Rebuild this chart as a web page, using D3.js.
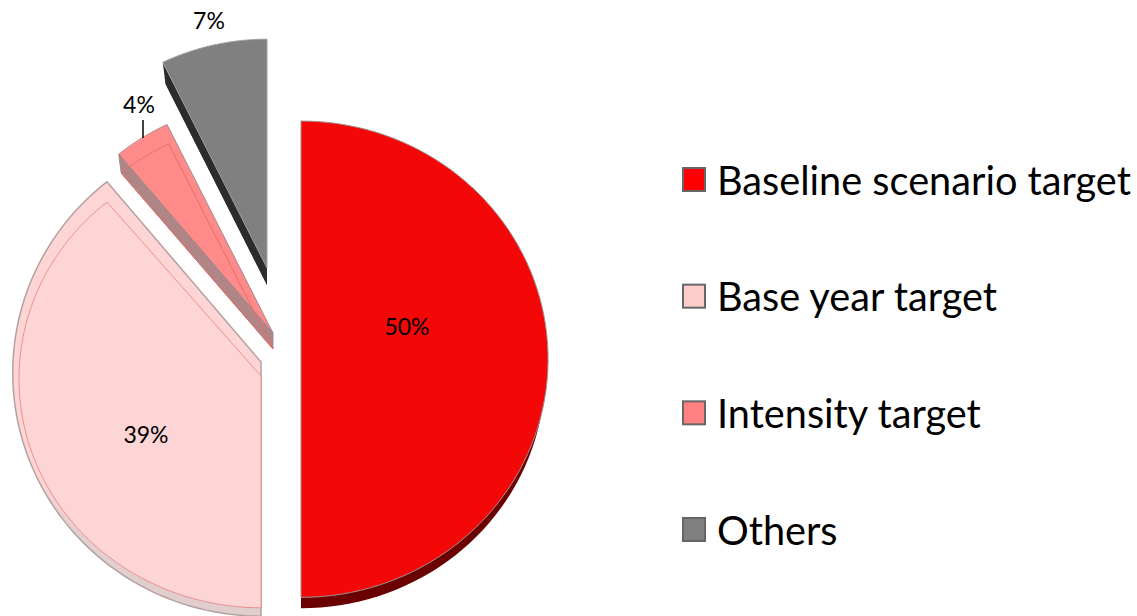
<!DOCTYPE html>
<html>
<head>
<meta charset="utf-8">
<script src="https://cdn.jsdelivr.net/npm/d3@7"></script>
<style>
  body { margin: 0; background: #fff; }
  text { font-family: Lato, "Open Sans", sans-serif; fill: #000; }
</style>
</head>
<body>
<script>
// chart values (shares in percent)
var categories = ["Baseline scenario target", "Base year target", "Intensity target", "Others"];
var shares = [50, 38.9, 3.8, 7.3];

// colours per slice
var faceColors = ["#f40707", "#fdd5d5", "#ff8a8a", "#808080"];
var legendColors = ["#ff0000", "#ffcccc", "#ff8080", "#808080"];
var edgeColors = ["#a09090", "#b5a0a0", "#a58a8a", "#a0a0a0"];

// exploded pie, top face and bottom face of each slice (slightly in perspective)
var topFaces = [
  {x: 301, y: 353, rx: 247, ry: 238, p: 0.026},
  {x: 261, y: 362, rx: 248, ry: 243, p: 0.044},
  {x: 273, y: 333, rx: 245, ry: 238, p: 0.026},
  {x: 267, y: 268, rx: 241, ry: 235, p: 0.027}
];
var bottomFaces = [
  {x: 301, y: 367, rx: 244, ry: 235, p: 0.026},
  {x: 261, y: 376, rx: 242, ry: 229, p: 0.012},
  {x: 273, y: 349, rx: 241, ry: 234, p: 0.026},
  {x: 267, y: 285, rx: 235, ry: 230, p: 0.027}
];

var width = 1137;
var height = 616;

var svg = d3.select("body")
            .append("svg")
            .attr("width", width)
            .attr("height", height)
            .style("display", "block");

// rim of the base year slice turns grey near the bottom
var rim = svg.append("defs").append("linearGradient")
             .attr("id", "rim")
             .attr("x1", 0).attr("y1", 0).attr("x2", 0).attr("y2", 1);
rim.append("stop").attr("offset", "0.68").attr("stop-color", "#fdd5d5");
rim.append("stop").attr("offset", "0.8").attr("stop-color", "#e2cfcf");
rim.append("stop").attr("offset", "1").attr("stop-color", "#e0cdcd");

var pie = d3.pie().sort(null).value(function(d) { return d; });
var slices = pie(shares);

// angle in the pie plane to a point on the screen
function project(face, angle) {
  var u = Math.sin(angle);
  var v = -Math.cos(angle);
  var s = 1 / (1 - face.p * v);
  return [face.x + face.rx * u * s, face.y + face.ry * v * s];
}

var line = d3.line();

function wedge(face, slice) {
  var steps = 80;
  var angle = d3.scaleLinear().domain([0, steps]).range([slice.startAngle, slice.endAngle]);
  var points = [[face.x, face.y]];
  d3.range(steps + 1).forEach(function(i) {
    points.push(project(face, angle(i)));
  });
  return line(points) + "Z";
}

// the straight side of a slice between its two faces, on the start angle
function wall(i) {
  var a = slices[i].startAngle;
  var t = topFaces[i];
  var b = bottomFaces[i];
  return line([[t.x, t.y], project(t, a), project(b, a), [b.x, b.y]]) + "Z";
}

var pieGroup = svg.append("g");

// red slice
pieGroup.append("path").attr("d", wedge(bottomFaces[0], slices[0])).attr("fill", "#6a0000");
pieGroup.append("path").attr("d", wedge(topFaces[0], slices[0]))
        .attr("fill", faceColors[0]).attr("stroke", edgeColors[0]).attr("stroke-width", 1);

// base year slice, see through
pieGroup.append("path").attr("d", wedge(topFaces[1], slices[1]))
        .attr("fill", "url(#rim)").attr("stroke", edgeColors[1]).attr("stroke-width", 1.5);
pieGroup.append("path").attr("d", wedge(bottomFaces[1], slices[1]))
        .attr("fill", faceColors[1]).attr("stroke", "#ee8f8f").attr("stroke-width", 1);

// intensity slice, see through
pieGroup.append("path").attr("d", wedge(topFaces[2], slices[2]))
        .attr("fill", faceColors[2]).attr("stroke", edgeColors[2]).attr("stroke-width", 1);
pieGroup.append("path").attr("d", wall(2))
        .attr("fill", "#b08585").attr("stroke", edgeColors[2]).attr("stroke-width", 1);
pieGroup.append("path").attr("d", wedge(bottomFaces[2], slices[2]))
        .attr("fill", "none").attr("stroke", "#ee6a6a").attr("stroke-width", 1);

// others slice
pieGroup.append("path").attr("d", wall(3)).attr("fill", "#2c2c2c");
pieGroup.append("path").attr("d", wedge(bottomFaces[3], slices[3])).attr("fill", "#2c2c2c");
pieGroup.append("path").attr("d", wedge(topFaces[3], slices[3]))
        .attr("fill", faceColors[3]).attr("stroke", edgeColors[3]).attr("stroke-width", 1);

// percent labels
var labelX = [407, 146, 139, 209];
var labelY = [335, 443, 113, 29];
var percent = d3.format(".0f");

svg.selectAll("text.value")
   .data(shares)
   .enter()
   .append("text")
   .attr("class", "value")
   .attr("x", function(d, i) { return labelX[i]; })
   .attr("y", function(d, i) { return labelY[i]; })
   .attr("text-anchor", "middle")
   .style("font-size", "23px")
   .text(function(d) { return percent(d) + "%"; });

// leader line of the 4% label
svg.append("line")
   .attr("x1", 143).attr("x2", 143)
   .attr("y1", 120).attr("y2", 138)
   .attr("stroke", "#000").attr("stroke-width", 1.5);

// legend
var legendY = d3.scalePoint().domain(categories).range([179.5, 529.5]);

var legend = svg.selectAll("g.legend")
                .data(categories)
                .enter()
                .append("g")
                .attr("class", "legend")
                .attr("transform", function(d) { return "translate(0," + legendY(d) + ")"; });

legend.append("rect")
      .attr("x", 683).attr("y", -11.5)
      .attr("width", 22).attr("height", 23)
      .attr("fill", function(d, i) { return legendColors[i]; })
      .attr("stroke", "#666").attr("stroke-width", 2);

legend.append("text")
      .attr("x", 717).attr("y", 15)
      .style("font-size", "39.7px")
      .text(function(d) { return d; });
</script>
</body>
</html>
